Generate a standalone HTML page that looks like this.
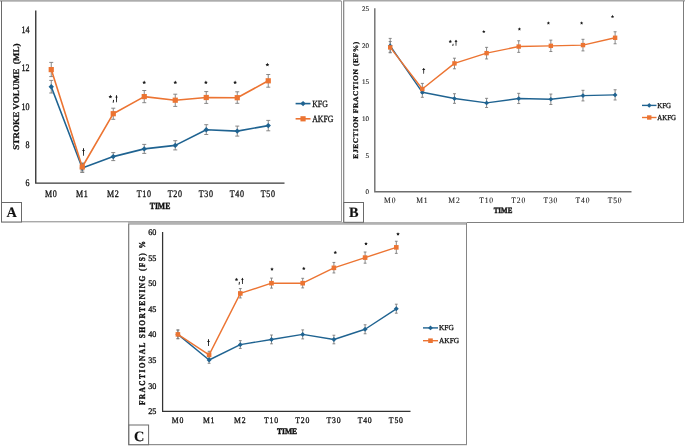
<!DOCTYPE html>
<html><head><meta charset="utf-8"><title>Figure</title>
<style>
html,body{margin:0;padding:0;background:#fff;}
body{width:685px;height:447px;overflow:hidden;font-family:"Liberation Serif",serif;}
svg{display:block;will-change:transform;}
</style></head>
<body>
<svg width="685" height="447" viewBox="0 0 685 447" font-family='"Liberation Serif", serif' fill="#111">
<style>text{stroke:#111;stroke-width:0.3px;text-rendering:geometricPrecision;} text[font-weight="bold"]{stroke-width:0.15px;} text.tm{stroke-width:0.4px;} text.yt{stroke-width:0.3px;}</style>
<rect width="685" height="447" fill="#fff"/>
<rect x="0" y="0" width="341.3" height="1.7" fill="#adadad"/>
<rect x="343" y="0" width="641" height="1.5" fill="#a8a8a8"/>
<rect x="1" y="1" width="1" height="221" fill="#6a6a6a"/>
<rect x="341" y="1" width="1" height="221" fill="#9a9a9a"/>
<rect x="1" y="221" width="341" height="1.4" fill="#a9a9a9"/>
<rect x="343" y="1" width="1.3" height="222" fill="#8c8c8c"/>
<rect x="683" y="1" width="1" height="222" fill="#7c7c7c"/>
<rect x="343" y="222" width="341" height="1" fill="#808080"/>
<rect x="128" y="222" width="339" height="2.8" fill="#b2b2b2"/>
<rect x="128" y="224" width="1.3" height="221" fill="#858585"/>
<rect x="466" y="223" width="1" height="222" fill="#858585"/>
<rect x="128" y="444" width="339" height="1.2" fill="#8e8e8e"/>
<rect x="1.5" y="202.5" width="20.0" height="19.5" fill="#fff" stroke="#6a6a6a" stroke-width="1"/>
<text transform="translate(11.70 217.30)" font-size="14.3" text-anchor="middle" font-weight="bold" >A</text>
<rect x="343.8" y="202.5" width="19.69999999999999" height="19.80000000000001" fill="#fff" stroke="#6a6a6a" stroke-width="1"/>
<text transform="translate(353.80 217.30)" font-size="14.3" text-anchor="middle" font-weight="bold" >B</text>
<rect x="128.9" y="425.0" width="19.69999999999999" height="19.69999999999999" fill="#fff" stroke="#6a6a6a" stroke-width="1"/>
<text transform="translate(139.10 441.00)" font-size="14.3" text-anchor="middle" font-weight="bold" >C</text>
<path d="M35.75 10.50V183.10H284.50" fill="none" stroke="#3a3a3a" stroke-width="1.4"/>
<text transform="translate(29.40 33.12) scale(0.8 1)" font-size="10" text-anchor="end" font-weight="normal" >14</text>
<text transform="translate(29.40 71.44) scale(0.8 1)" font-size="10" text-anchor="end" font-weight="normal" >12</text>
<text transform="translate(29.40 109.76) scale(0.8 1)" font-size="10" text-anchor="end" font-weight="normal" >10</text>
<text transform="translate(29.40 148.08) scale(0.8 1)" font-size="10" text-anchor="end" font-weight="normal" >8</text>
<text transform="translate(29.40 186.40) scale(0.8 1)" font-size="10" text-anchor="end" font-weight="normal" >6</text>
<text transform="translate(51.25 196.90) scale(0.8 1)" font-size="10" text-anchor="middle" font-weight="normal" letter-spacing="0.9" >M0</text>
<text transform="translate(82.25 196.90) scale(0.8 1)" font-size="10" text-anchor="middle" font-weight="normal" letter-spacing="0.9" >M1</text>
<text transform="translate(113.25 196.90) scale(0.8 1)" font-size="10" text-anchor="middle" font-weight="normal" letter-spacing="0.9" >M2</text>
<text transform="translate(144.25 196.90) scale(0.8 1)" font-size="10" text-anchor="middle" font-weight="normal" letter-spacing="0.9" >T10</text>
<text transform="translate(175.25 196.90) scale(0.8 1)" font-size="10" text-anchor="middle" font-weight="normal" letter-spacing="0.9" >T20</text>
<text transform="translate(206.25 196.90) scale(0.8 1)" font-size="10" text-anchor="middle" font-weight="normal" letter-spacing="0.9" >T30</text>
<text transform="translate(237.25 196.90) scale(0.8 1)" font-size="10" text-anchor="middle" font-weight="normal" letter-spacing="0.9" >T40</text>
<text transform="translate(268.25 196.90) scale(0.8 1)" font-size="10" text-anchor="middle" font-weight="normal" letter-spacing="0.9" >T50</text>
<text transform="translate(160.00 208.90) scale(0.82 1)" font-size="9.4" text-anchor="middle" font-weight="bold" class="tm">TIME</text>
<text transform="translate(18.80 96.60) scale(0.95 1) rotate(-90)" font-size="9.15" text-anchor="middle" font-weight="bold" class="yt">STROKE VOLUME&#160; (ML)</text>
<line x1="51.25" y1="80.40" x2="51.25" y2="93.00" stroke="#7c7c7c" stroke-width="0.9"/>
<line x1="49.25" y1="80.40" x2="53.25" y2="80.40" stroke="#7c7c7c" stroke-width="0.9"/>
<line x1="49.25" y1="93.00" x2="53.25" y2="93.00" stroke="#7c7c7c" stroke-width="0.9"/>
<line x1="82.25" y1="163.50" x2="82.25" y2="172.50" stroke="#7c7c7c" stroke-width="0.9"/>
<line x1="80.25" y1="163.50" x2="84.25" y2="163.50" stroke="#7c7c7c" stroke-width="0.9"/>
<line x1="80.25" y1="172.50" x2="84.25" y2="172.50" stroke="#7c7c7c" stroke-width="0.9"/>
<line x1="113.25" y1="152.60" x2="113.25" y2="160.60" stroke="#7c7c7c" stroke-width="0.9"/>
<line x1="111.25" y1="152.60" x2="115.25" y2="152.60" stroke="#7c7c7c" stroke-width="0.9"/>
<line x1="111.25" y1="160.60" x2="115.25" y2="160.60" stroke="#7c7c7c" stroke-width="0.9"/>
<line x1="144.25" y1="144.40" x2="144.25" y2="153.40" stroke="#7c7c7c" stroke-width="0.9"/>
<line x1="142.25" y1="144.40" x2="146.25" y2="144.40" stroke="#7c7c7c" stroke-width="0.9"/>
<line x1="142.25" y1="153.40" x2="146.25" y2="153.40" stroke="#7c7c7c" stroke-width="0.9"/>
<line x1="175.25" y1="140.70" x2="175.25" y2="149.90" stroke="#7c7c7c" stroke-width="0.9"/>
<line x1="173.25" y1="140.70" x2="177.25" y2="140.70" stroke="#7c7c7c" stroke-width="0.9"/>
<line x1="173.25" y1="149.90" x2="177.25" y2="149.90" stroke="#7c7c7c" stroke-width="0.9"/>
<line x1="206.25" y1="124.70" x2="206.25" y2="134.50" stroke="#7c7c7c" stroke-width="0.9"/>
<line x1="204.25" y1="124.70" x2="208.25" y2="124.70" stroke="#7c7c7c" stroke-width="0.9"/>
<line x1="204.25" y1="134.50" x2="208.25" y2="134.50" stroke="#7c7c7c" stroke-width="0.9"/>
<line x1="237.25" y1="126.10" x2="237.25" y2="136.10" stroke="#7c7c7c" stroke-width="0.9"/>
<line x1="235.25" y1="126.10" x2="239.25" y2="126.10" stroke="#7c7c7c" stroke-width="0.9"/>
<line x1="235.25" y1="136.10" x2="239.25" y2="136.10" stroke="#7c7c7c" stroke-width="0.9"/>
<line x1="268.25" y1="120.40" x2="268.25" y2="130.80" stroke="#7c7c7c" stroke-width="0.9"/>
<line x1="266.25" y1="120.40" x2="270.25" y2="120.40" stroke="#7c7c7c" stroke-width="0.9"/>
<line x1="266.25" y1="130.80" x2="270.25" y2="130.80" stroke="#7c7c7c" stroke-width="0.9"/>
<line x1="51.25" y1="62.40" x2="51.25" y2="76.60" stroke="#7c7c7c" stroke-width="0.9"/>
<line x1="49.25" y1="62.40" x2="53.25" y2="62.40" stroke="#7c7c7c" stroke-width="0.9"/>
<line x1="49.25" y1="76.60" x2="53.25" y2="76.60" stroke="#7c7c7c" stroke-width="0.9"/>
<line x1="82.25" y1="163.00" x2="82.25" y2="171.00" stroke="#7c7c7c" stroke-width="0.9"/>
<line x1="80.25" y1="163.00" x2="84.25" y2="163.00" stroke="#7c7c7c" stroke-width="0.9"/>
<line x1="80.25" y1="171.00" x2="84.25" y2="171.00" stroke="#7c7c7c" stroke-width="0.9"/>
<line x1="113.25" y1="108.20" x2="113.25" y2="119.30" stroke="#7c7c7c" stroke-width="0.9"/>
<line x1="111.25" y1="108.20" x2="115.25" y2="108.20" stroke="#7c7c7c" stroke-width="0.9"/>
<line x1="111.25" y1="119.30" x2="115.25" y2="119.30" stroke="#7c7c7c" stroke-width="0.9"/>
<line x1="144.25" y1="90.50" x2="144.25" y2="102.70" stroke="#7c7c7c" stroke-width="0.9"/>
<line x1="142.25" y1="90.50" x2="146.25" y2="90.50" stroke="#7c7c7c" stroke-width="0.9"/>
<line x1="142.25" y1="102.70" x2="146.25" y2="102.70" stroke="#7c7c7c" stroke-width="0.9"/>
<line x1="175.25" y1="94.20" x2="175.25" y2="106.40" stroke="#7c7c7c" stroke-width="0.9"/>
<line x1="173.25" y1="94.20" x2="177.25" y2="94.20" stroke="#7c7c7c" stroke-width="0.9"/>
<line x1="173.25" y1="106.40" x2="177.25" y2="106.40" stroke="#7c7c7c" stroke-width="0.9"/>
<line x1="206.25" y1="91.60" x2="206.25" y2="103.40" stroke="#7c7c7c" stroke-width="0.9"/>
<line x1="204.25" y1="91.60" x2="208.25" y2="91.60" stroke="#7c7c7c" stroke-width="0.9"/>
<line x1="204.25" y1="103.40" x2="208.25" y2="103.40" stroke="#7c7c7c" stroke-width="0.9"/>
<line x1="237.25" y1="91.80" x2="237.25" y2="103.30" stroke="#7c7c7c" stroke-width="0.9"/>
<line x1="235.25" y1="91.80" x2="239.25" y2="91.80" stroke="#7c7c7c" stroke-width="0.9"/>
<line x1="235.25" y1="103.30" x2="239.25" y2="103.30" stroke="#7c7c7c" stroke-width="0.9"/>
<line x1="268.25" y1="74.50" x2="268.25" y2="87.20" stroke="#7c7c7c" stroke-width="0.9"/>
<line x1="266.25" y1="74.50" x2="270.25" y2="74.50" stroke="#7c7c7c" stroke-width="0.9"/>
<line x1="266.25" y1="87.20" x2="270.25" y2="87.20" stroke="#7c7c7c" stroke-width="0.9"/>
<polyline points="51.25,86.70 82.25,168.00 113.25,156.60 144.25,148.90 175.25,145.40 206.25,129.70 237.25,131.10 268.25,125.60" fill="none" stroke="#1f6391" stroke-width="1.6" stroke-linejoin="round"/>
<path d="M51.25 84.00L53.95 86.70L51.25 89.40L48.55 86.70Z" fill="#1f6391"/>
<path d="M82.25 165.30L84.95 168.00L82.25 170.70L79.55 168.00Z" fill="#1f6391"/>
<path d="M113.25 153.90L115.95 156.60L113.25 159.30L110.55 156.60Z" fill="#1f6391"/>
<path d="M144.25 146.20L146.95 148.90L144.25 151.60L141.55 148.90Z" fill="#1f6391"/>
<path d="M175.25 142.70L177.95 145.40L175.25 148.10L172.55 145.40Z" fill="#1f6391"/>
<path d="M206.25 127.00L208.95 129.70L206.25 132.40L203.55 129.70Z" fill="#1f6391"/>
<path d="M237.25 128.40L239.95 131.10L237.25 133.80L234.55 131.10Z" fill="#1f6391"/>
<path d="M268.25 122.90L270.95 125.60L268.25 128.30L265.55 125.60Z" fill="#1f6391"/>
<polyline points="51.25,69.60 82.25,167.00 113.25,113.70 144.25,96.60 175.25,100.20 206.25,97.50 237.25,97.70 268.25,80.80" fill="none" stroke="#ec7432" stroke-width="1.6" stroke-linejoin="round"/>
<rect x="48.65" y="67.00" width="5.20" height="5.20" fill="#ec7432"/>
<rect x="79.65" y="164.40" width="5.20" height="5.20" fill="#ec7432"/>
<rect x="110.65" y="111.10" width="5.20" height="5.20" fill="#ec7432"/>
<rect x="141.65" y="94.00" width="5.20" height="5.20" fill="#ec7432"/>
<rect x="172.65" y="97.60" width="5.20" height="5.20" fill="#ec7432"/>
<rect x="203.65" y="94.90" width="5.20" height="5.20" fill="#ec7432"/>
<rect x="234.65" y="95.10" width="5.20" height="5.20" fill="#ec7432"/>
<rect x="265.65" y="78.20" width="5.20" height="5.20" fill="#ec7432"/>
<polygon points="110.40,94.70 110.99,95.89 112.30,96.08 111.35,97.01 111.58,98.32 110.40,97.70 109.22,98.32 109.45,97.01 108.50,96.08 109.81,95.89" fill="#1a1a1a"/>
<polygon points="144.20,80.50 144.79,81.69 146.10,81.88 145.15,82.81 145.38,84.12 144.20,83.50 143.02,84.12 143.25,82.81 142.30,81.88 143.61,81.69" fill="#1a1a1a"/>
<polygon points="175.30,80.50 175.89,81.69 177.20,81.88 176.25,82.81 176.48,84.12 175.30,83.50 174.12,84.12 174.35,82.81 173.40,81.88 174.71,81.69" fill="#1a1a1a"/>
<polygon points="205.90,80.50 206.49,81.69 207.80,81.88 206.85,82.81 207.08,84.12 205.90,83.50 204.72,84.12 204.95,82.81 204.00,81.88 205.31,81.69" fill="#1a1a1a"/>
<polygon points="235.10,80.50 235.69,81.69 237.00,81.88 236.05,82.81 236.28,84.12 235.10,83.50 233.92,84.12 234.15,82.81 233.20,81.88 234.51,81.69" fill="#1a1a1a"/>
<polygon points="267.40,62.70 267.99,63.89 269.30,64.08 268.35,65.01 268.58,66.32 267.40,65.70 266.22,66.32 266.45,65.01 265.50,64.08 266.81,63.89" fill="#1a1a1a"/>
<path d="M82.97 148.50Q83.50 147.70 84.03 148.50L83.90 155.80H83.10Z" fill="#1a1a1a"/>
<path d="M81.80 150.50Q83.50 149.30 85.20 150.50Q83.50 151.70 81.80 150.50Z" fill="#1a1a1a"/>
<path d="M115.97 95.40Q116.50 94.60 117.03 95.40L116.90 102.30H116.10Z" fill="#1a1a1a"/>
<path d="M115.00 97.10Q116.50 95.90 118.00 97.10Q116.50 98.30 115.00 97.10Z" fill="#1a1a1a"/>
<path d="M113.50 100.30L113.25 102.30" stroke="#1a1a1a" stroke-width="1.0" stroke-linecap="round" fill="none"/>
<line x1="295.60" y1="103.60" x2="310.50" y2="103.60" stroke="#1f6391" stroke-width="1.6"/>
<path d="M303.05 100.90L305.75 103.60L303.05 106.30L300.35 103.60Z" fill="#1f6391"/>
<line x1="295.60" y1="118.80" x2="310.50" y2="118.80" stroke="#ec7432" stroke-width="1.6"/>
<rect x="300.45" y="116.20" width="5.20" height="5.20" fill="#ec7432"/>
<text transform="translate(312.20 106.70) scale(0.82 1)" font-size="9.5" text-anchor="start" font-weight="normal" >KFG</text>
<text transform="translate(312.20 121.90) scale(0.82 1)" font-size="9.5" text-anchor="start" font-weight="normal" >AKFG</text>
<path d="M374.80 8.20V191.80H631.50" fill="none" stroke="#6e6e6e" stroke-width="1.4"/>
<text transform="translate(368.90 11.20)" font-size="7.0" text-anchor="end" font-weight="normal" style="stroke-width:0.12px;fill:#222">25</text>
<text transform="translate(368.90 47.80)" font-size="7.0" text-anchor="end" font-weight="normal" style="stroke-width:0.12px;fill:#222">20</text>
<text transform="translate(368.90 84.40)" font-size="7.0" text-anchor="end" font-weight="normal" style="stroke-width:0.12px;fill:#222">15</text>
<text transform="translate(368.90 121.00)" font-size="7.0" text-anchor="end" font-weight="normal" style="stroke-width:0.12px;fill:#222">10</text>
<text transform="translate(368.90 157.60)" font-size="7.0" text-anchor="end" font-weight="normal" style="stroke-width:0.12px;fill:#222">5</text>
<text transform="translate(368.90 194.20)" font-size="7.0" text-anchor="end" font-weight="normal" style="stroke-width:0.12px;fill:#222">0</text>
<text transform="translate(390.20 202.80) scale(0.9 1)" font-size="8.4" text-anchor="middle" font-weight="normal" letter-spacing="1.0" style="stroke-width:0.12px;fill:#222">M0</text>
<text transform="translate(422.33 202.80) scale(0.9 1)" font-size="8.4" text-anchor="middle" font-weight="normal" letter-spacing="1.0" style="stroke-width:0.12px;fill:#222">M1</text>
<text transform="translate(454.46 202.80) scale(0.9 1)" font-size="8.4" text-anchor="middle" font-weight="normal" letter-spacing="1.0" style="stroke-width:0.12px;fill:#222">M2</text>
<text transform="translate(486.59 202.80) scale(0.9 1)" font-size="8.4" text-anchor="middle" font-weight="normal" letter-spacing="1.0" style="stroke-width:0.12px;fill:#222">T10</text>
<text transform="translate(518.72 202.80) scale(0.9 1)" font-size="8.4" text-anchor="middle" font-weight="normal" letter-spacing="1.0" style="stroke-width:0.12px;fill:#222">T20</text>
<text transform="translate(550.85 202.80) scale(0.9 1)" font-size="8.4" text-anchor="middle" font-weight="normal" letter-spacing="1.0" style="stroke-width:0.12px;fill:#222">T30</text>
<text transform="translate(582.98 202.80) scale(0.9 1)" font-size="8.4" text-anchor="middle" font-weight="normal" letter-spacing="1.0" style="stroke-width:0.12px;fill:#222">T40</text>
<text transform="translate(615.11 202.80) scale(0.9 1)" font-size="8.4" text-anchor="middle" font-weight="normal" letter-spacing="1.0" style="stroke-width:0.12px;fill:#222">T50</text>
<text transform="translate(503.00 212.70) scale(0.86 1)" font-size="8.1" text-anchor="middle" font-weight="bold" class="tm">TIME</text>
<text transform="translate(358.40 99.90) scale(0.95 1) rotate(-90)" font-size="7.5" text-anchor="middle" font-weight="bold" letter-spacing="0.58" class="yt">EJECTION FRACTION (EF%)</text>
<line x1="390.20" y1="38.40" x2="390.20" y2="52.30" stroke="#7c7c7c" stroke-width="0.9"/>
<line x1="388.70" y1="38.40" x2="391.70" y2="38.40" stroke="#7c7c7c" stroke-width="0.9"/>
<line x1="388.70" y1="52.30" x2="391.70" y2="52.30" stroke="#7c7c7c" stroke-width="0.9"/>
<line x1="422.33" y1="87.80" x2="422.33" y2="97.30" stroke="#7c7c7c" stroke-width="0.9"/>
<line x1="420.83" y1="87.80" x2="423.83" y2="87.80" stroke="#7c7c7c" stroke-width="0.9"/>
<line x1="420.83" y1="97.30" x2="423.83" y2="97.30" stroke="#7c7c7c" stroke-width="0.9"/>
<line x1="454.46" y1="93.74" x2="454.46" y2="103.34" stroke="#7c7c7c" stroke-width="0.9"/>
<line x1="452.96" y1="93.74" x2="455.96" y2="93.74" stroke="#7c7c7c" stroke-width="0.9"/>
<line x1="452.96" y1="103.34" x2="455.96" y2="103.34" stroke="#7c7c7c" stroke-width="0.9"/>
<line x1="486.59" y1="98.33" x2="486.59" y2="107.53" stroke="#7c7c7c" stroke-width="0.9"/>
<line x1="485.09" y1="98.33" x2="488.09" y2="98.33" stroke="#7c7c7c" stroke-width="0.9"/>
<line x1="485.09" y1="107.53" x2="488.09" y2="107.53" stroke="#7c7c7c" stroke-width="0.9"/>
<line x1="518.72" y1="93.34" x2="518.72" y2="103.54" stroke="#7c7c7c" stroke-width="0.9"/>
<line x1="517.22" y1="93.34" x2="520.22" y2="93.34" stroke="#7c7c7c" stroke-width="0.9"/>
<line x1="517.22" y1="103.54" x2="520.22" y2="103.54" stroke="#7c7c7c" stroke-width="0.9"/>
<line x1="550.85" y1="94.07" x2="550.85" y2="104.47" stroke="#7c7c7c" stroke-width="0.9"/>
<line x1="549.35" y1="94.07" x2="552.35" y2="94.07" stroke="#7c7c7c" stroke-width="0.9"/>
<line x1="549.35" y1="104.47" x2="552.35" y2="104.47" stroke="#7c7c7c" stroke-width="0.9"/>
<line x1="582.98" y1="90.31" x2="582.98" y2="100.91" stroke="#7c7c7c" stroke-width="0.9"/>
<line x1="581.48" y1="90.31" x2="584.48" y2="90.31" stroke="#7c7c7c" stroke-width="0.9"/>
<line x1="581.48" y1="100.91" x2="584.48" y2="100.91" stroke="#7c7c7c" stroke-width="0.9"/>
<line x1="615.11" y1="89.78" x2="615.11" y2="99.98" stroke="#7c7c7c" stroke-width="0.9"/>
<line x1="613.61" y1="89.78" x2="616.61" y2="89.78" stroke="#7c7c7c" stroke-width="0.9"/>
<line x1="613.61" y1="99.98" x2="616.61" y2="99.98" stroke="#7c7c7c" stroke-width="0.9"/>
<line x1="390.20" y1="41.50" x2="390.20" y2="52.80" stroke="#7c7c7c" stroke-width="0.9"/>
<line x1="388.70" y1="41.50" x2="391.70" y2="41.50" stroke="#7c7c7c" stroke-width="0.9"/>
<line x1="388.70" y1="52.80" x2="391.70" y2="52.80" stroke="#7c7c7c" stroke-width="0.9"/>
<line x1="422.33" y1="83.40" x2="422.33" y2="93.50" stroke="#7c7c7c" stroke-width="0.9"/>
<line x1="420.83" y1="83.40" x2="423.83" y2="83.40" stroke="#7c7c7c" stroke-width="0.9"/>
<line x1="420.83" y1="93.50" x2="423.83" y2="93.50" stroke="#7c7c7c" stroke-width="0.9"/>
<line x1="454.46" y1="58.20" x2="454.46" y2="68.80" stroke="#7c7c7c" stroke-width="0.9"/>
<line x1="452.96" y1="58.20" x2="455.96" y2="58.20" stroke="#7c7c7c" stroke-width="0.9"/>
<line x1="452.96" y1="68.80" x2="455.96" y2="68.80" stroke="#7c7c7c" stroke-width="0.9"/>
<line x1="486.59" y1="47.35" x2="486.59" y2="58.95" stroke="#7c7c7c" stroke-width="0.9"/>
<line x1="485.09" y1="47.35" x2="488.09" y2="47.35" stroke="#7c7c7c" stroke-width="0.9"/>
<line x1="485.09" y1="58.95" x2="488.09" y2="58.95" stroke="#7c7c7c" stroke-width="0.9"/>
<line x1="518.72" y1="40.76" x2="518.72" y2="52.36" stroke="#7c7c7c" stroke-width="0.9"/>
<line x1="517.22" y1="40.76" x2="520.22" y2="40.76" stroke="#7c7c7c" stroke-width="0.9"/>
<line x1="517.22" y1="52.36" x2="520.22" y2="52.36" stroke="#7c7c7c" stroke-width="0.9"/>
<line x1="550.85" y1="40.13" x2="550.85" y2="51.53" stroke="#7c7c7c" stroke-width="0.9"/>
<line x1="549.35" y1="40.13" x2="552.35" y2="40.13" stroke="#7c7c7c" stroke-width="0.9"/>
<line x1="549.35" y1="51.53" x2="552.35" y2="51.53" stroke="#7c7c7c" stroke-width="0.9"/>
<line x1="582.98" y1="39.30" x2="582.98" y2="50.90" stroke="#7c7c7c" stroke-width="0.9"/>
<line x1="581.48" y1="39.30" x2="584.48" y2="39.30" stroke="#7c7c7c" stroke-width="0.9"/>
<line x1="581.48" y1="50.90" x2="584.48" y2="50.90" stroke="#7c7c7c" stroke-width="0.9"/>
<line x1="615.11" y1="31.78" x2="615.11" y2="43.78" stroke="#7c7c7c" stroke-width="0.9"/>
<line x1="613.61" y1="31.78" x2="616.61" y2="31.78" stroke="#7c7c7c" stroke-width="0.9"/>
<line x1="613.61" y1="43.78" x2="616.61" y2="43.78" stroke="#7c7c7c" stroke-width="0.9"/>
<polyline points="390.20,45.80 422.33,92.30 454.46,98.54 486.59,102.93 518.72,98.54 550.85,99.27 582.98,95.61 615.11,94.88" fill="none" stroke="#1f6391" stroke-width="1.4" stroke-linejoin="round"/>
<path d="M390.20 43.45L392.55 45.80L390.20 48.15L387.85 45.80Z" fill="#1f6391"/>
<path d="M422.33 89.95L424.68 92.30L422.33 94.65L419.98 92.30Z" fill="#1f6391"/>
<path d="M454.46 96.19L456.81 98.54L454.46 100.89L452.11 98.54Z" fill="#1f6391"/>
<path d="M486.59 100.58L488.94 102.93L486.59 105.28L484.24 102.93Z" fill="#1f6391"/>
<path d="M518.72 96.19L521.07 98.54L518.72 100.89L516.37 98.54Z" fill="#1f6391"/>
<path d="M550.85 96.92L553.20 99.27L550.85 101.62L548.50 99.27Z" fill="#1f6391"/>
<path d="M582.98 93.26L585.33 95.61L582.98 97.96L580.63 95.61Z" fill="#1f6391"/>
<path d="M615.11 92.53L617.46 94.88L615.11 97.23L612.76 94.88Z" fill="#1f6391"/>
<polyline points="390.20,47.40 422.33,89.00 454.46,63.40 486.59,53.15 518.72,46.56 550.85,45.83 582.98,45.10 615.11,37.78" fill="none" stroke="#ec7432" stroke-width="1.4" stroke-linejoin="round"/>
<rect x="388.00" y="45.20" width="4.40" height="4.40" fill="#ec7432"/>
<rect x="420.13" y="86.80" width="4.40" height="4.40" fill="#ec7432"/>
<rect x="452.26" y="61.20" width="4.40" height="4.40" fill="#ec7432"/>
<rect x="484.39" y="50.95" width="4.40" height="4.40" fill="#ec7432"/>
<rect x="516.52" y="44.36" width="4.40" height="4.40" fill="#ec7432"/>
<rect x="548.65" y="43.63" width="4.40" height="4.40" fill="#ec7432"/>
<rect x="580.78" y="42.90" width="4.40" height="4.40" fill="#ec7432"/>
<rect x="612.91" y="35.58" width="4.40" height="4.40" fill="#ec7432"/>
<polygon points="450.30,39.75 450.81,40.79 451.96,40.96 451.13,41.77 451.33,42.92 450.30,42.38 449.27,42.92 449.47,41.77 448.64,40.96 449.79,40.79" fill="#1a1a1a"/>
<polygon points="483.80,29.95 484.31,30.99 485.46,31.16 484.63,31.97 484.83,33.12 483.80,32.58 482.77,33.12 482.97,31.97 482.14,31.16 483.29,30.99" fill="#1a1a1a"/>
<polygon points="519.40,27.35 519.91,28.39 521.06,28.56 520.23,29.37 520.43,30.52 519.40,29.98 518.37,30.52 518.57,29.37 517.74,28.56 518.89,28.39" fill="#1a1a1a"/>
<polygon points="548.40,21.35 548.91,22.39 550.06,22.56 549.23,23.37 549.43,24.52 548.40,23.98 547.37,24.52 547.57,23.37 546.74,22.56 547.89,22.39" fill="#1a1a1a"/>
<polygon points="581.60,21.35 582.11,22.39 583.26,22.56 582.43,23.37 582.63,24.52 581.60,23.98 580.57,24.52 580.77,23.37 579.94,22.56 581.09,22.39" fill="#1a1a1a"/>
<polygon points="612.50,14.85 613.01,15.89 614.16,16.06 613.33,16.87 613.53,18.02 612.50,17.48 611.47,18.02 611.67,16.87 610.84,16.06 611.99,15.89" fill="#1a1a1a"/>
<path d="M423.22 68.30Q423.70 67.50 424.18 68.30L424.06 73.80H423.34Z" fill="#1a1a1a"/>
<path d="M422.05 69.40Q423.70 68.20 425.35 69.40Q423.70 70.60 422.05 69.40Z" fill="#1a1a1a"/>
<path d="M455.52 40.20Q456.00 39.40 456.48 40.20L456.36 45.70H455.64Z" fill="#1a1a1a"/>
<path d="M454.35 41.50Q456.00 40.30 457.65 41.50Q456.00 42.70 454.35 41.50Z" fill="#1a1a1a"/>
<path d="M453.10 44.20L452.85 45.60" stroke="#1a1a1a" stroke-width="0.9" stroke-linecap="round" fill="none"/>
<line x1="642.00" y1="105.40" x2="656.50" y2="105.40" stroke="#1f6391" stroke-width="1.4"/>
<path d="M649.25 103.05L651.60 105.40L649.25 107.75L646.90 105.40Z" fill="#1f6391"/>
<line x1="642.00" y1="117.50" x2="656.50" y2="117.50" stroke="#ec7432" stroke-width="1.4"/>
<rect x="647.05" y="115.30" width="4.40" height="4.40" fill="#ec7432"/>
<text transform="translate(657.30 108.00) scale(0.9 1)" font-size="7.6" text-anchor="start" font-weight="normal" >KFG</text>
<text transform="translate(657.30 120.10) scale(0.9 1)" font-size="7.6" text-anchor="start" font-weight="normal" >AKFG</text>
<path d="M162.60 232.00V411.40H410.50" fill="none" stroke="#333" stroke-width="1.25"/>
<text transform="translate(156.40 234.90) scale(0.95 1)" font-size="8.6" text-anchor="end" font-weight="normal" >60</text>
<text transform="translate(156.40 260.50) scale(0.95 1)" font-size="8.6" text-anchor="end" font-weight="normal" >55</text>
<text transform="translate(156.40 286.10) scale(0.95 1)" font-size="8.6" text-anchor="end" font-weight="normal" >50</text>
<text transform="translate(156.40 311.70) scale(0.95 1)" font-size="8.6" text-anchor="end" font-weight="normal" >45</text>
<text transform="translate(156.40 337.30) scale(0.95 1)" font-size="8.6" text-anchor="end" font-weight="normal" >40</text>
<text transform="translate(156.40 362.90) scale(0.95 1)" font-size="8.6" text-anchor="end" font-weight="normal" >35</text>
<text transform="translate(156.40 388.50) scale(0.95 1)" font-size="8.6" text-anchor="end" font-weight="normal" >30</text>
<text transform="translate(156.40 414.10) scale(0.95 1)" font-size="8.6" text-anchor="end" font-weight="normal" >25</text>
<text transform="translate(177.90 422.90) scale(0.9 1)" font-size="8.6" text-anchor="middle" font-weight="normal" letter-spacing="0.9" >M0</text>
<text transform="translate(209.10 422.90) scale(0.9 1)" font-size="8.6" text-anchor="middle" font-weight="normal" letter-spacing="0.9" >M1</text>
<text transform="translate(240.30 422.90) scale(0.9 1)" font-size="8.6" text-anchor="middle" font-weight="normal" letter-spacing="0.9" >M2</text>
<text transform="translate(271.50 422.90) scale(0.9 1)" font-size="8.6" text-anchor="middle" font-weight="normal" letter-spacing="0.9" >T10</text>
<text transform="translate(302.70 422.90) scale(0.9 1)" font-size="8.6" text-anchor="middle" font-weight="normal" letter-spacing="0.9" >T20</text>
<text transform="translate(333.90 422.90) scale(0.9 1)" font-size="8.6" text-anchor="middle" font-weight="normal" letter-spacing="0.9" >T30</text>
<text transform="translate(365.10 422.90) scale(0.9 1)" font-size="8.6" text-anchor="middle" font-weight="normal" letter-spacing="0.9" >T40</text>
<text transform="translate(396.30 422.90) scale(0.9 1)" font-size="8.6" text-anchor="middle" font-weight="normal" letter-spacing="0.9" >T50</text>
<text transform="translate(287.00 433.60) scale(0.9 1)" font-size="8.4" text-anchor="middle" font-weight="bold" class="tm">TIME</text>
<text transform="translate(144.60 322.40) scale(1.2 1) rotate(-90)" font-size="7.4" text-anchor="middle" font-weight="bold" letter-spacing="1.42" class="yt">FRACTIONAL SHORTENING (FS) %</text>
<line x1="177.90" y1="330.10" x2="177.90" y2="338.70" stroke="#7c7c7c" stroke-width="0.9"/>
<line x1="176.50" y1="330.10" x2="179.30" y2="330.10" stroke="#7c7c7c" stroke-width="0.9"/>
<line x1="176.50" y1="338.70" x2="179.30" y2="338.70" stroke="#7c7c7c" stroke-width="0.9"/>
<line x1="209.10" y1="356.70" x2="209.10" y2="363.30" stroke="#7c7c7c" stroke-width="0.9"/>
<line x1="207.70" y1="356.70" x2="210.50" y2="356.70" stroke="#7c7c7c" stroke-width="0.9"/>
<line x1="207.70" y1="363.30" x2="210.50" y2="363.30" stroke="#7c7c7c" stroke-width="0.9"/>
<line x1="240.30" y1="340.64" x2="240.30" y2="348.44" stroke="#7c7c7c" stroke-width="0.9"/>
<line x1="238.90" y1="340.64" x2="241.70" y2="340.64" stroke="#7c7c7c" stroke-width="0.9"/>
<line x1="238.90" y1="348.44" x2="241.70" y2="348.44" stroke="#7c7c7c" stroke-width="0.9"/>
<line x1="271.50" y1="335.02" x2="271.50" y2="343.82" stroke="#7c7c7c" stroke-width="0.9"/>
<line x1="270.10" y1="335.02" x2="272.90" y2="335.02" stroke="#7c7c7c" stroke-width="0.9"/>
<line x1="270.10" y1="343.82" x2="272.90" y2="343.82" stroke="#7c7c7c" stroke-width="0.9"/>
<line x1="302.70" y1="329.90" x2="302.70" y2="338.90" stroke="#7c7c7c" stroke-width="0.9"/>
<line x1="301.30" y1="329.90" x2="304.10" y2="329.90" stroke="#7c7c7c" stroke-width="0.9"/>
<line x1="301.30" y1="338.90" x2="304.10" y2="338.90" stroke="#7c7c7c" stroke-width="0.9"/>
<line x1="333.90" y1="335.22" x2="333.90" y2="343.82" stroke="#7c7c7c" stroke-width="0.9"/>
<line x1="332.50" y1="335.22" x2="335.30" y2="335.22" stroke="#7c7c7c" stroke-width="0.9"/>
<line x1="332.50" y1="343.82" x2="335.30" y2="343.82" stroke="#7c7c7c" stroke-width="0.9"/>
<line x1="365.10" y1="324.78" x2="365.10" y2="333.78" stroke="#7c7c7c" stroke-width="0.9"/>
<line x1="363.70" y1="324.78" x2="366.50" y2="324.78" stroke="#7c7c7c" stroke-width="0.9"/>
<line x1="363.70" y1="333.78" x2="366.50" y2="333.78" stroke="#7c7c7c" stroke-width="0.9"/>
<line x1="396.30" y1="304.20" x2="396.30" y2="313.20" stroke="#7c7c7c" stroke-width="0.9"/>
<line x1="394.90" y1="304.20" x2="397.70" y2="304.20" stroke="#7c7c7c" stroke-width="0.9"/>
<line x1="394.90" y1="313.20" x2="397.70" y2="313.20" stroke="#7c7c7c" stroke-width="0.9"/>
<line x1="177.90" y1="329.90" x2="177.90" y2="338.70" stroke="#7c7c7c" stroke-width="0.9"/>
<line x1="176.50" y1="329.90" x2="179.30" y2="329.90" stroke="#7c7c7c" stroke-width="0.9"/>
<line x1="176.50" y1="338.70" x2="179.30" y2="338.70" stroke="#7c7c7c" stroke-width="0.9"/>
<line x1="209.10" y1="351.28" x2="209.10" y2="358.48" stroke="#7c7c7c" stroke-width="0.9"/>
<line x1="207.70" y1="351.28" x2="210.50" y2="351.28" stroke="#7c7c7c" stroke-width="0.9"/>
<line x1="207.70" y1="358.48" x2="210.50" y2="358.48" stroke="#7c7c7c" stroke-width="0.9"/>
<line x1="240.30" y1="288.54" x2="240.30" y2="297.94" stroke="#7c7c7c" stroke-width="0.9"/>
<line x1="238.90" y1="288.54" x2="241.70" y2="288.54" stroke="#7c7c7c" stroke-width="0.9"/>
<line x1="238.90" y1="297.94" x2="241.70" y2="297.94" stroke="#7c7c7c" stroke-width="0.9"/>
<line x1="271.50" y1="278.10" x2="271.50" y2="288.10" stroke="#7c7c7c" stroke-width="0.9"/>
<line x1="270.10" y1="278.10" x2="272.90" y2="278.10" stroke="#7c7c7c" stroke-width="0.9"/>
<line x1="270.10" y1="288.10" x2="272.90" y2="288.10" stroke="#7c7c7c" stroke-width="0.9"/>
<line x1="302.70" y1="278.30" x2="302.70" y2="287.90" stroke="#7c7c7c" stroke-width="0.9"/>
<line x1="301.30" y1="278.30" x2="304.10" y2="278.30" stroke="#7c7c7c" stroke-width="0.9"/>
<line x1="301.30" y1="287.90" x2="304.10" y2="287.90" stroke="#7c7c7c" stroke-width="0.9"/>
<line x1="333.90" y1="262.44" x2="333.90" y2="272.94" stroke="#7c7c7c" stroke-width="0.9"/>
<line x1="332.50" y1="262.44" x2="335.30" y2="262.44" stroke="#7c7c7c" stroke-width="0.9"/>
<line x1="332.50" y1="272.94" x2="335.30" y2="272.94" stroke="#7c7c7c" stroke-width="0.9"/>
<line x1="365.10" y1="252.00" x2="365.10" y2="263.20" stroke="#7c7c7c" stroke-width="0.9"/>
<line x1="363.70" y1="252.00" x2="366.50" y2="252.00" stroke="#7c7c7c" stroke-width="0.9"/>
<line x1="363.70" y1="263.20" x2="366.50" y2="263.20" stroke="#7c7c7c" stroke-width="0.9"/>
<line x1="396.30" y1="241.26" x2="396.30" y2="253.36" stroke="#7c7c7c" stroke-width="0.9"/>
<line x1="394.90" y1="241.26" x2="397.70" y2="241.26" stroke="#7c7c7c" stroke-width="0.9"/>
<line x1="394.90" y1="253.36" x2="397.70" y2="253.36" stroke="#7c7c7c" stroke-width="0.9"/>
<polyline points="177.90,334.40 209.10,360.00 240.30,344.64 271.50,339.52 302.70,334.40 333.90,339.52 365.10,329.28 396.30,308.80" fill="none" stroke="#1f6391" stroke-width="1.4" stroke-linejoin="round"/>
<path d="M177.90 331.95L180.35 334.40L177.90 336.85L175.45 334.40Z" fill="#1f6391"/>
<path d="M209.10 357.55L211.55 360.00L209.10 362.45L206.65 360.00Z" fill="#1f6391"/>
<path d="M240.30 342.19L242.75 344.64L240.30 347.09L237.85 344.64Z" fill="#1f6391"/>
<path d="M271.50 337.07L273.95 339.52L271.50 341.97L269.05 339.52Z" fill="#1f6391"/>
<path d="M302.70 331.95L305.15 334.40L302.70 336.85L300.25 334.40Z" fill="#1f6391"/>
<path d="M333.90 337.07L336.35 339.52L333.90 341.97L331.45 339.52Z" fill="#1f6391"/>
<path d="M365.10 326.83L367.55 329.28L365.10 331.73L362.65 329.28Z" fill="#1f6391"/>
<path d="M396.30 306.35L398.75 308.80L396.30 311.25L393.85 308.80Z" fill="#1f6391"/>
<polyline points="177.90,334.40 209.10,354.88 240.30,293.44 271.50,283.20 302.70,283.20 333.90,267.84 365.10,257.60 396.30,247.36" fill="none" stroke="#ec7432" stroke-width="1.4" stroke-linejoin="round"/>
<rect x="175.60" y="332.10" width="4.60" height="4.60" fill="#ec7432"/>
<rect x="206.80" y="352.58" width="4.60" height="4.60" fill="#ec7432"/>
<rect x="238.00" y="291.14" width="4.60" height="4.60" fill="#ec7432"/>
<rect x="269.20" y="280.90" width="4.60" height="4.60" fill="#ec7432"/>
<rect x="300.40" y="280.90" width="4.60" height="4.60" fill="#ec7432"/>
<rect x="331.60" y="265.54" width="4.60" height="4.60" fill="#ec7432"/>
<rect x="362.80" y="255.30" width="4.60" height="4.60" fill="#ec7432"/>
<rect x="394.00" y="245.06" width="4.60" height="4.60" fill="#ec7432"/>
<polygon points="236.50,277.65 237.04,278.75 238.26,278.93 237.38,279.79 237.59,281.00 236.50,280.43 235.41,281.00 235.62,279.79 234.74,278.93 235.96,278.75" fill="#1a1a1a"/>
<polygon points="272.00,267.35 272.54,268.45 273.76,268.63 272.88,269.49 273.09,270.70 272.00,270.12 270.91,270.70 271.12,269.49 270.24,268.63 271.46,268.45" fill="#1a1a1a"/>
<polygon points="303.80,266.65 304.34,267.75 305.56,267.93 304.68,268.79 304.89,270.00 303.80,269.43 302.71,270.00 302.92,268.79 302.04,267.93 303.26,267.75" fill="#1a1a1a"/>
<polygon points="335.30,250.65 335.84,251.75 337.06,251.93 336.18,252.79 336.39,254.00 335.30,253.43 334.21,254.00 334.42,252.79 333.54,251.93 334.76,251.75" fill="#1a1a1a"/>
<polygon points="366.00,241.95 366.54,243.05 367.76,243.23 366.88,244.09 367.09,245.30 366.00,244.73 364.91,245.30 365.12,244.09 364.24,243.23 365.46,243.05" fill="#1a1a1a"/>
<polygon points="398.00,232.25 398.54,233.35 399.76,233.53 398.88,234.39 399.09,235.60 398.00,235.03 396.91,235.60 397.12,234.39 396.24,233.53 397.46,233.35" fill="#1a1a1a"/>
<path d="M207.97 339.40Q208.50 338.60 209.03 339.40L208.90 345.90H208.10Z" fill="#1a1a1a"/>
<path d="M207.00 341.40Q208.50 340.20 210.00 341.40Q208.50 342.60 207.00 341.40Z" fill="#1a1a1a"/>
<path d="M241.88 278.20Q242.40 277.40 242.93 278.20L242.80 283.90H242.00Z" fill="#1a1a1a"/>
<path d="M240.95 279.50Q242.40 278.30 243.85 279.50Q242.40 280.70 240.95 279.50Z" fill="#1a1a1a"/>
<path d="M239.40 282.30L239.15 284.30" stroke="#1a1a1a" stroke-width="0.95" stroke-linecap="round" fill="none"/>
<line x1="423.00" y1="327.90" x2="438.00" y2="327.90" stroke="#1f6391" stroke-width="1.4"/>
<path d="M430.50 325.45L432.95 327.90L430.50 330.35L428.05 327.90Z" fill="#1f6391"/>
<line x1="423.00" y1="340.70" x2="438.00" y2="340.70" stroke="#ec7432" stroke-width="1.4"/>
<rect x="428.20" y="338.40" width="4.60" height="4.60" fill="#ec7432"/>
<text transform="translate(439.00 330.40) scale(0.97 1)" font-size="7.6" text-anchor="start" font-weight="normal" >KFG</text>
<text transform="translate(439.00 343.20) scale(0.97 1)" font-size="7.6" text-anchor="start" font-weight="normal" >AKFG</text>
</svg>
</body></html>
